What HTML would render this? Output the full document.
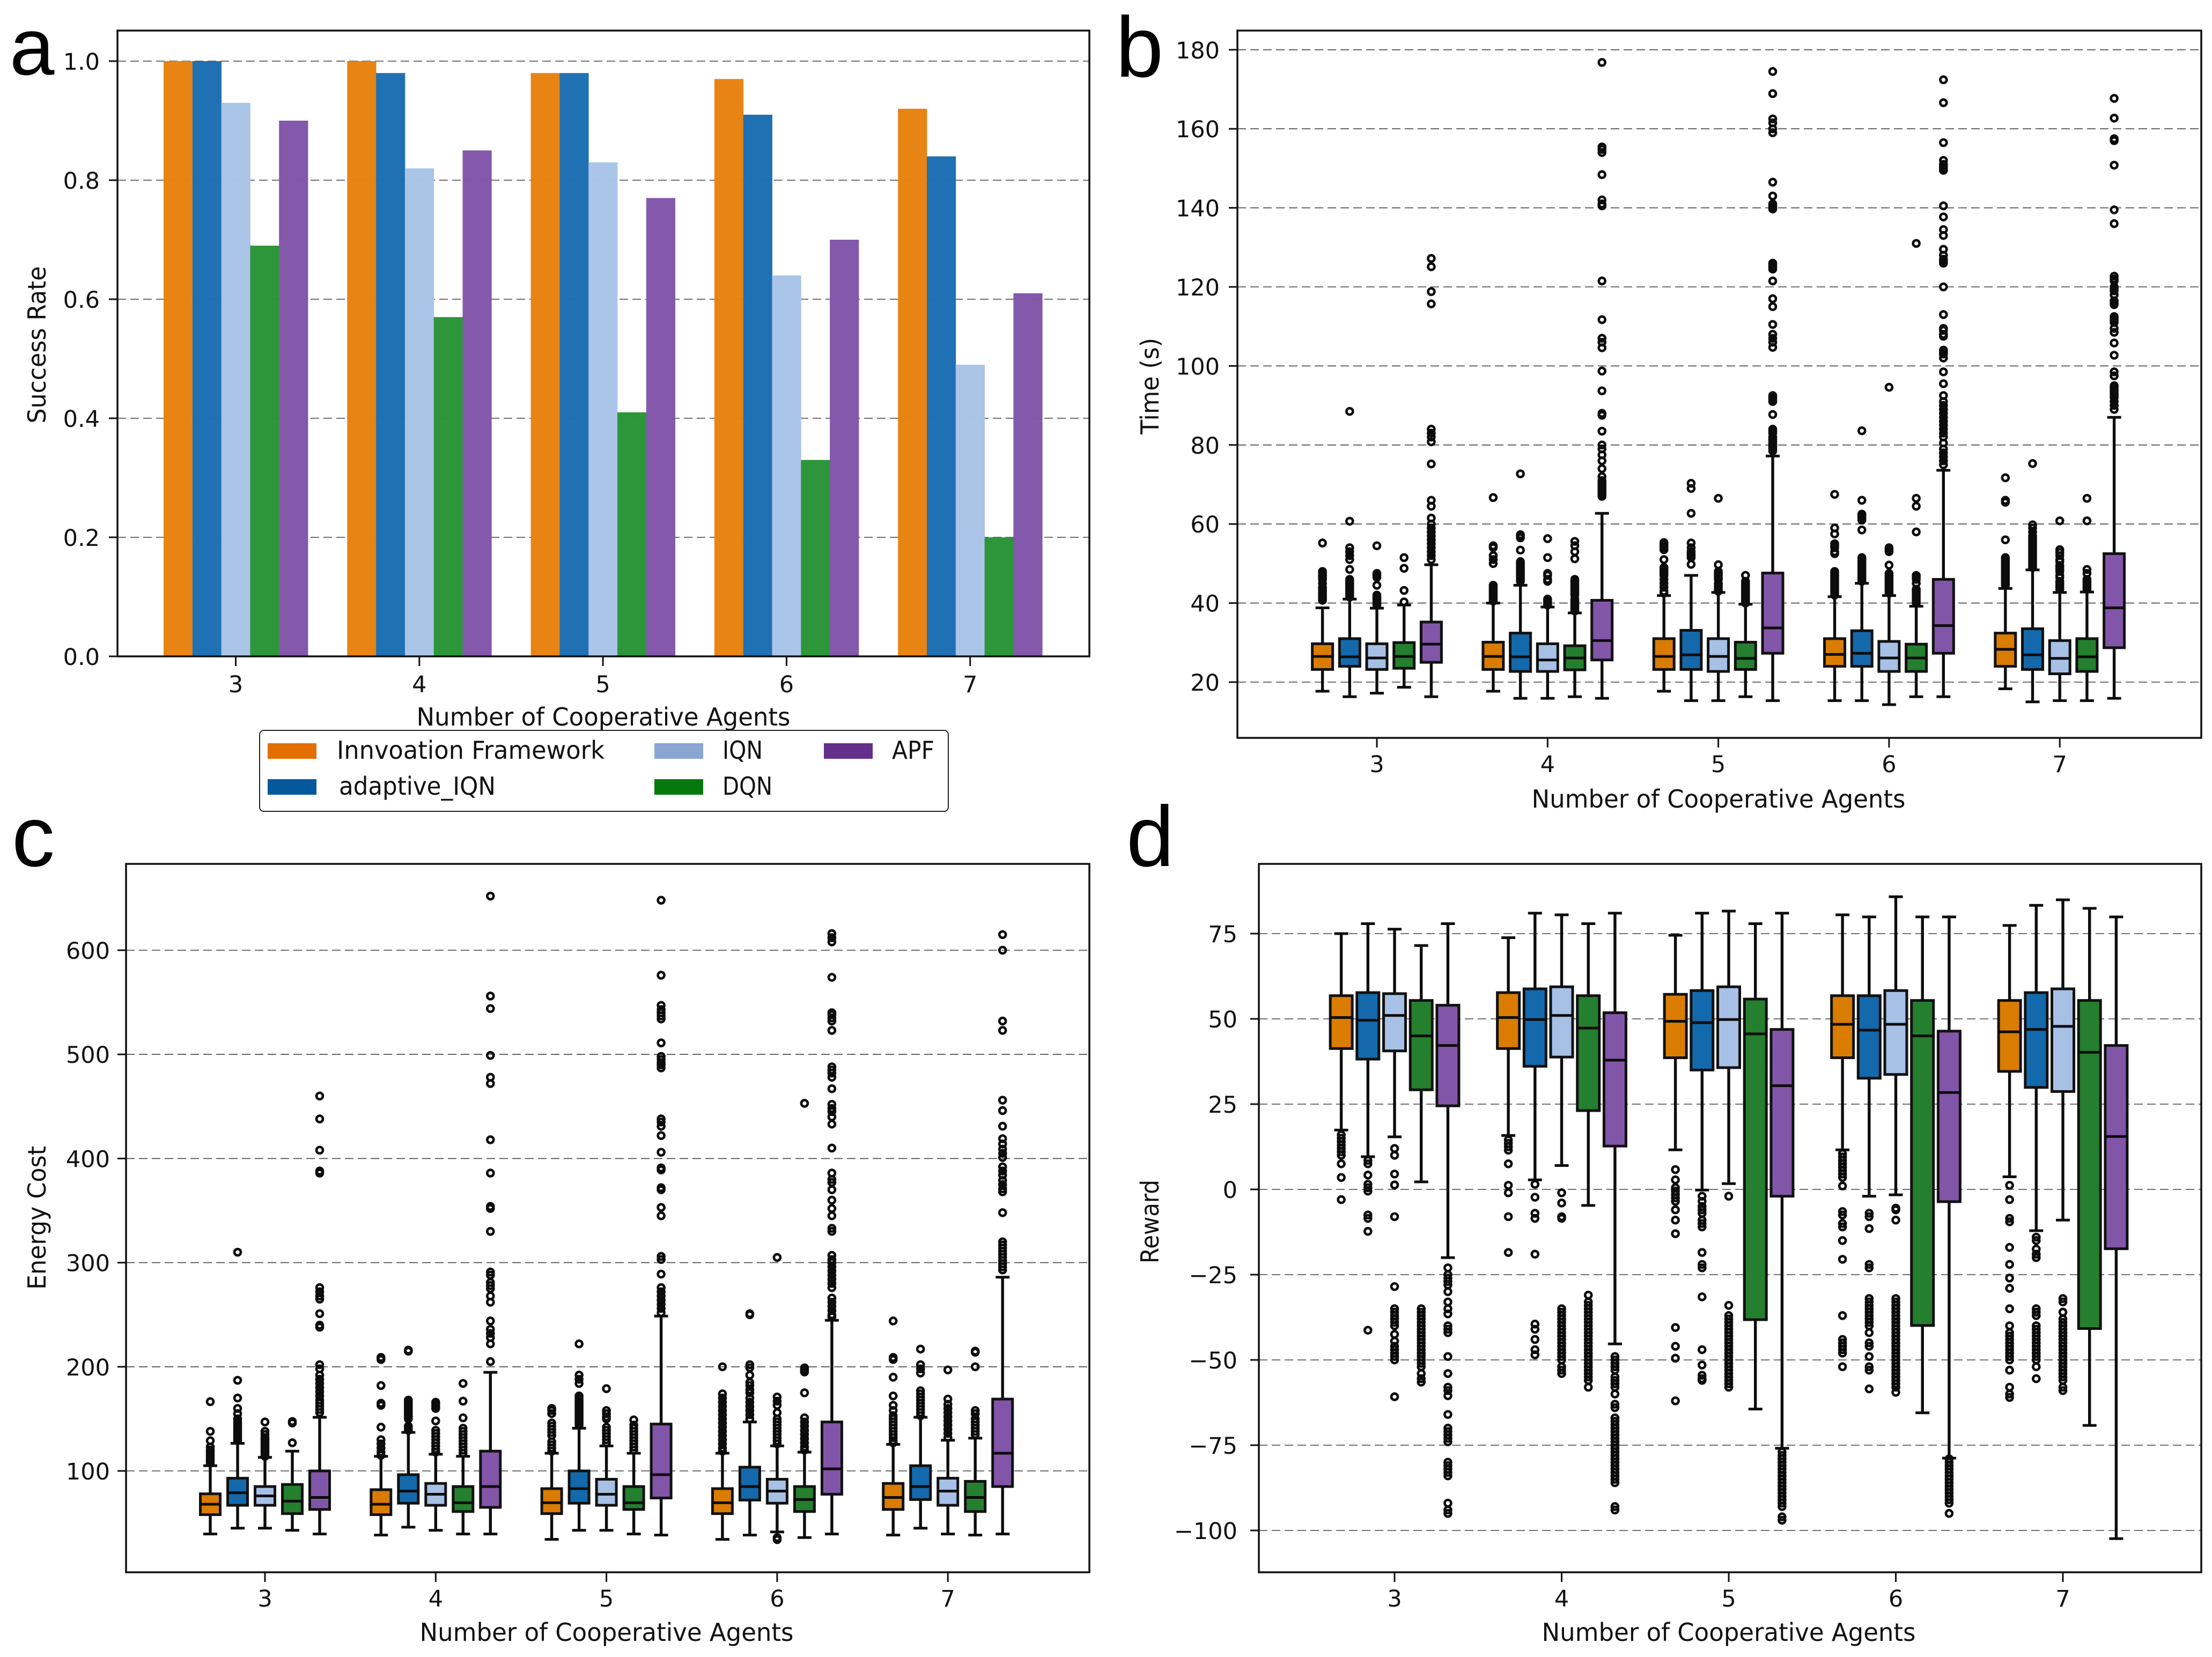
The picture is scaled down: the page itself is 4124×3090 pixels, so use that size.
<!DOCTYPE html>
<html lang="en">
<head>
<meta charset="utf-8">
<title>Cooperative agents comparison</title>
<style>
html,body{margin:0;padding:0;background:#fff;}
svg{display:block;}
text{font-family:"DejaVu Sans","Liberation Sans",sans-serif;fill:#111;}
.pl{font-family:"Liberation Sans",sans-serif;fill:#000;}
</style>
</head>
<body>
<svg id="fig" xmlns="http://www.w3.org/2000/svg" width="4124" height="3090" viewBox="0 0 4124 3090"></svg>
<script>
const agentCounts = [3, 4, 5, 6, 7];
const seriesNames = ["Innvoation Framework", "adaptive_IQN", "IQN", "DQN", "APF"];
const seriesKeys = ["innovation", "adaptive-iqn", "iqn", "dqn", "apf"];
const barColors = ["#E8820F", "#1B6FB3", "#A9C4E8", "#2A9437", "#8256AB"];
const boxColors = ["#D97C00", "#1369AB", "#A6C0E6", "#247F2E", "#8155A8"];
const legendColors = ["#E36F00", "#04589C", "#8AA6D3", "#05780E", "#652F8C"];

const successRate = [
  [1.0, 1.0, 0.93, 0.69, 0.90],
  [1.0, 0.98, 0.82, 0.57, 0.85],
  [0.98, 0.98, 0.83, 0.41, 0.77],
  [0.97, 0.91, 0.64, 0.33, 0.70],
  [0.92, 0.84, 0.49, 0.20, 0.61]
];
const successTicks = [0.0, 0.2, 0.4, 0.6, 0.8, 1.0];

const timeTicks = [20, 40, 60, 80, 100, 120, 140, 160, 180];
const timeQ1 = [[23.2,24,23.2,23.5,25],[23.2,22.7,22.7,23.1,25.6],[23.2,23.2,22.7,23.2,27.3],[24,24,22.7,22.7,27.3],[24,23.2,22.1,22.7,28.7]];
const timeMedian = [[26.5,26.4,26.1,26.5,29.6],[26.5,26.4,25.6,26.1,30.5],[26.5,26.9,26.5,26,33.7],[27,27.3,26.1,26.1,34.3],[28.3,26.9,26,26.4,38.8]];
const timeQ3 = [[29.7,31,29.7,30,35.2],[30.1,32.4,29.7,29.2,40.7],[31,33.1,31,30.1,47.6],[31,33,30.3,29.6,46],[32.4,33.5,30.5,31,52.5]];
const timeLow = [[17.7,16.3,17.2,18.7,16.3],[17.7,15.9,15.9,16.3,15.9],[17.7,15.3,15.3,16.3,15.3],[15.3,15.3,14.3,16.3,16.3],[18.3,15,15.3,15.3,15.9]];
const timeHigh = [[38.8,41,38.7,39.5,49.7],[40,44.5,39,37.5,62.7],[41.9,47,42.7,39.7,77.2],[41.6,45,41.9,39.2,73.6],[43.7,48.4,42.7,42.8,87]];
const timeFliers = [
 [[55.2,48,47.5,47,46.5,46,45,44,43.5,43,42.5,42,41.5,41,40.7],
  [88.5,60.7,54,53,52,51,48.5,46,45.5,45,44.5,44,43.5,43,42.5,42,41.5],
  [54.5,47.5,47,46.5,44.5,42,41.5,41,40.5,40,39.5],
  [51.5,48.8,43.2,40.3],
  [127.2,125.1,118.8,115.7,84,83,82,80.8,75.2,66,64.5,61.5,60,59,58,57,56,55,54,53,52,51]],
 [[66.7,54.5,54,52,51,50,44.5,44,43.5,43,42.5,42,41.5,41,40.5],
  [72.7,57.3,57,56.5,53.4,50.5,50,49.5,49,48.5,48,47.5,47,46.5,46,45.5],
  [56.3,51.5,47.5,47,46,45.5,41,40.5,40,39.5],
  [55.6,54.5,53,51.2,46,45.5,45,44.5,44,43.5,43,42.5,42,41,40.5,40,39.5,39,38.5,38],
  [176.8,155.4,154.8,154,148.4,142,141,140.5,121.5,111.7,107,106,104.6,98.7,93.7,88,87.5,83.5,80,79,77.5,76,74,72,71,70.5,70,69.5,69,68.5,68,67.5,67]],
 [[55.3,55,54.5,54,53.5,51,49,48.5,48,47.5,47,46,45,44,43,42.5],
  [70.3,69,62.7,55.2,54,53,52.5,52,51.5,49.8],
  [66.5,49.7,48,47.5,47,46.5,46,45,44.5,44,43.5,43],
  [47,45.5,45,44.5,44,43.5,43,42.5,42,41.5,41,40.5,40],
  [174.5,168.9,162.5,161.5,160,159,146.5,143,141,140.5,140,139.7,126,125.5,125,124.5,121.5,117,115,110.5,108,107,106,104.7,92.5,92,91.5,91,87.7,84,83.5,83,82,81.5,81,80.5,80,79.5,79,78.5]],
 [[67.5,59,57.5,55,54.5,54,53,52.5,48,47.5,47,46.5,46,45.5,45,44.5,44,43.5,43,42.5,42],
  [83.6,66,62.5,62,61.5,61,58.5,51.5,51,50.5,50,49.5,49,48.5,48,47.5,47,46.5,46,45.5],
  [94.6,54,53.5,53,49.6,47.5,47,46.5,46,45.5,45,44.5,44,43.5,43,42.5],
  [131,66.5,64.5,58,47,46.5,46,45,43.5,43,42.5,42,41.5,41,40.5,40],
  [172.4,166.6,156.5,152,151,150.5,150,149.5,140.5,137.7,134.5,133,129.5,128,127,126.5,126,120,113,109.5,109,108,107.5,104,103.5,103,102,98.5,95.5,92.5,91,90,89,88,87,86,85,84,83,82,80.5,79,78,77,76,75]],
 [[71.7,66,65.5,56,51.5,51,50.5,50,49.5,49,48.5,48,47.5,47,46.5,46,45.5,45,44.5],
  [75.3,59.8,59,58,57,56.5,56,55.5,55,54.5,54,53.5,53,52.5,52,51.5,51,50.5,50,49.5,49],
  [60.8,53.5,52.8,52,51,50.5,49.5,49,48.5,48,47,46.5,45.5,45,44.5,44,43.5],
  [66.5,60.8,48.5,47.5,46,45.5,45,44.5,44,43.5],
  [167.7,162.7,157.5,157,150.8,139.5,136,122.7,122,121.5,120,119.5,119,118,116.5,116,115.5,112.5,112,111.5,111,109.5,108.5,105.8,102.7,98.5,97.5,95,94.5,94,93.5,93,92.5,92,91,90,89]]
];

const energyTicks = [100, 200, 300, 400, 500, 600];
const energyQ1 = [[58,67,67,59,63],[58,69,67,61,65],[59,69,67,63,74],[59,72,69,61,77.6],[63,72.5,67,61,85]];
const energyMedian = [[68,79,76,71,74.5],[68,80.6,77.6,69.4,85],[69.4,83,77.6,69.4,96.4],[69.4,85,80.6,72.5,102],[74.5,85,80.6,74.5,117]];
const energyQ3 = [[78,93,85,87,100],[82,96.4,88,85,119],[83,100,92,85,145],[83,103.6,92,85,147],[88,105,93,90,169]];
const energyLow = [[39.4,45,45,43,39.4],[38.4,46,43,39.4,39.4],[34.3,43,43,39.4,38.4],[34.3,38.4,41.4,36,39.4],[38.4,45,39.4,38.4,39.4]];
const energyHigh = [[105,126.5,113,119,151.5],[114,137,116,114,194.7],[117,141,124,117,248.7],[117,147,124,118,244.6],[125.5,151.5,129.5,131.5,286]];
const energyFliers = [
 [[166.5,138,129,123,120,118,116,114,112,110,108],
  [310,187,170,160,155,150,147,145,143,141,139,137,135,133,131,129],
  [147,138,135,132,130,128,126,124,122,120,118,116,114],
  [147.5,146,127],
  [460,438,408,388,386,276,272,268,265,251,240,238,202,198,192,188,184,180,176,172,168,165,162,159,156]],
 [[209,207,182,165,163,142,130,126,122,118,115],
  [216,215,168,166,164,162,160,158,156,154,152,150,143,141,139],
  [166,164,162,160,148,139,136,133,130,127,124,121,118],
  [184,167,151,141,138,135,132,129,126,123,120,117],
  [652,556,544,499,478,472,418,386,354,352,330,291,288,281,278,275,268,262,244,236,232,228,222,205]],
 [[160,158,155,146,143,140,137,134,128,125,122,119],
  [222,192,188,184,172,170,168,166,164,162,160,158,156,154,152,150,148,146,144],
  [179,158,155,152,150,142,139,136,133,130,127],
  [149,144,141,138,135,132,129,126,123,120],
  [648,576,547,543,540,537,534,511,498,495,492,490,487,438,435,431,422,406,391,389,372,370,353,345,306,303,289,276,272,268,264,260,256,252]],
 [[200,174,170,166,162,158,154,150,146,142,138,134,130,126,122,119],
  [251,250,202,199,192,185,182,178,175,170,166,162,158,154,150],
  [305,171,167,163,156,150,147,144,141,138,135,132,129,126,36,34],
  [453,199,197,195,175,151,147,143,139,135,131,127,123,120],
  [616,612,608,574,540,538,535,532,523,488,485,482,478,467,452,448,445,440,433,410,386,380,377,370,360,352,345,333,330,307,303,300,296,292,288,284,280,276,266,262,258,254,250,248]],
 [[244,209,207,190,172,163,158,153,150,147,144,141,138,135,132,129,127],
  [217,202,198,194,177,174,171,168,165,162,159,156,153],
  [197,169,164,160,156,152,148,144,140,136,132],
  [215,214,200,158,155,150,147,144,141,138,135],
  [615,600,532,523,456,446,431,419,414,409,405,401,392,388,384,379,375,371,368,348,320,317,314,311,308,305,302,299,296,293]]
];

const rewardTicks = [-100, -75, -50, -25, 0, 25, 50, 75];
const rewardQ1 = [[41.3,38.2,40.6,29.2,24.5],[41.3,36.1,38.8,23.1,12.7],[38.6,35,35.7,-38.2,-2],[38.6,32.6,33.7,-39.9,-3.6],[34.6,29.9,28.7,-40.8,-17.4]];
const rewardMedian = [[50.4,49.6,51,45,42.2],[50.4,49.8,51,47.3,37.9],[49.3,48.9,49.8,45.6,30.4],[48.4,46.7,48.4,45,28.4],[46.2,46.9,47.8,40.2,15.5]];
const rewardQ3 = [[56.8,57.7,57.4,55.4,54],[57.7,58.8,59.4,56.8,51.8],[57.2,58.3,59.4,55.8,46.9],[56.8,56.8,58.3,55.4,46.4],[55.4,57.7,58.8,55.4,42.2]];
const rewardLow = [[17.4,9.6,15.4,2.2,-20],[15.8,2.8,7,-4.7,-45.3],[11.6,-0.2,1.7,-64.4,-75.9],[11.6,-2,-1.6,-65.5,-78.8],[3.7,-12.1,-9,-69.2,-102.4]];
const rewardHigh = [[75,77.9,76.3,71.5,77.9],[73.8,81,80.5,77.9,81],[74.5,81,81.6,77.9,81],[80.5,79.9,85.8,79.9,79.9],[77.4,83.3,84.9,82.4,79.9]];
const rewardFliers = [
 [[16,15,14,13,12,11,10,7.5,3.5,-3],
  [8.5,7.5,4.2,1.5,0.5,-0.5,-7.5,-8.5,-12.3,-41.3],
  [12,10,4.5,1.3,-8,-28.5,-35,-36,-37,-38,-39,-40,-42.5,-44.5,-46,-47,-48,-49,-50,-60.8],
  [-35,-36,-37,-38,-39,-40,-41,-42,-43,-44,-45,-46,-47,-48,-49,-50,-51,-52,-54,-55.5,-56.5],
  [-23,-25,-26,-27,-28,-30,-33,-35,-36.5,-40,-41,-42,-49,-54,-58,-59,-60.5,-66,-70,-71,-72,-73,-74,-80,-81,-82,-83,-84,-92,-94,-95]],
 [[14.5,13.5,12.5,11.5,7.5,1.2,-1,-8,-18.5],
  [1.5,-2.3,-7,-8.5,-19,-39.5,-41,-44,-47,-48.5],
  [-1,-4,-8,-8.5,-35,-36,-37,-38,-39,-40,-41,-42,-43,-44,-45,-46,-47,-48,-49,-50,-52,-53,-54],
  [-31,-33,-34,-35,-36,-37,-38,-39,-40,-41,-42,-43,-44,-45,-46,-47,-48,-49,-50,-51,-52,-53,-54,-55,-56,-58],
  [-49,-50,-51,-52,-53,-55,-56,-57,-58,-60,-63,-64,-67,-68,-69,-70,-71,-72,-73,-74,-75,-76,-77,-78,-79,-80,-81,-82,-83,-84,-85,-86,-93,-94]],
 [[5.8,2.8,0.5,-0.5,-1.5,-2.5,-3.5,-6,-9,-13,-40.5,-46,-49.5,-62],
  [-2,-3.5,-5,-6,-7,-9,-10,-11,-18.5,-22,-23,-31.5,-47,-51.5,-54.5,-55.5,-56],
  [-2,-34,-37,-38,-39,-40,-41,-42,-43,-44,-45,-46,-47,-48,-49,-50,-51,-52,-53,-54,-55,-56,-57,-58],
  [],
  [-77,-78,-79,-80,-81,-82,-83,-84,-85,-86,-87,-88,-89,-90,-91,-92,-93,-96,-97]],
 [[10.5,9.5,8.5,7.5,6.5,5.5,4.5,3.5,1,-6.5,-7.5,-10,-11,-15,-20.5,-37,-44,-45,-46,-47,-48,-52],
  [-7,-8,-11.5,-22,-23,-32,-33,-34,-35,-36,-37,-38,-39,-40,-42,-45,-46,-49,-52,-53,-58.5],
  [-5.5,-6,-9,-32,-33,-34,-35,-36,-37,-38,-39,-40,-41,-42,-43,-44,-45,-46,-47,-48,-49,-50,-51,-52,-53,-54,-55,-56,-57,-58,-59.5],
  [],
  [-79,-80,-81,-82,-83,-84,-85,-86,-87,-88,-89,-90,-91,-92,-95]],
 [[1.2,-3,-8.5,-9.5,-17,-22,-26,-29,-35,-40,-42,-43,-44,-45,-46,-47,-48,-49,-50,-53,-58,-60,-61],
  [-14,-15,-17.5,-19,-20,-35,-36,-37,-40,-41,-42,-43,-44,-45,-46,-47,-48,-49,-50,-52,-55.5],
  [-32,-33,-36,-38,-39,-40,-41,-42,-43,-44,-45,-46,-47,-48,-49,-50,-51,-52,-53,-54,-55,-56,-58,-59],
  [],
  []]
];

const SVGNS = "http://www.w3.org/2000/svg";
const fig = document.getElementById("fig");
const gridDash = "16 8";

function mk(tag, parent, attrs) {
  const el = document.createElementNS(SVGNS, tag);
  for (const k in attrs) el.setAttribute(k, attrs[k]);
  parent.appendChild(el);
  return el;
}

function frame(p, xOf, yOf, ticks, fmt) {
  for (const t of ticks) {
    const grid = mk("line", p.g, {x1: p.left, x2: p.right, y1: yOf(t), y2: yOf(t), stroke: "#222", "stroke-width": 1.6, "stroke-dasharray": gridDash, opacity: 0.85});
    
    
  }
}

function axes(p, xOf, yOf, ticks, fmt) {
  const border = mk("rect", p.g, {x: p.left, y: p.top, width: p.right - p.left, height: p.bottom - p.top, fill: "none", stroke: "#111", "stroke-width": 3.5});
  
  
  for (const t of ticks) {
    const mark = mk("line", p.g, {x1: p.left - 16, x2: p.left, y1: yOf(t), y2: yOf(t), stroke: "#111", "stroke-width": 3});
    
    
    const lab = mk("text", p.g, {x: p.tickRight, y: yOf(t) + 16, "text-anchor": "end", "font-size": 43});
    
    
    lab.textContent = fmt(t);
  }
  for (const c of agentCounts) {
    const mark = mk("line", p.g, {x1: xOf(c), x2: xOf(c), y1: p.bottom, y2: p.bottom + 18, stroke: "#111", "stroke-width": 3});
    
    
    const lab = mk("text", p.g, {x: xOf(c), y: p.xTickY + 16, "text-anchor": "middle", "font-size": 43});
    
    
    lab.textContent = String(c);
  }
  const xt = mk("text", p.g, {x: p.xTitleX, y: p.xTitleY + 16, "text-anchor": "middle", "font-size": 46, textLength: 697, lengthAdjust: "spacingAndGlyphs"});
  
  
  xt.textContent = "Number of Cooperative Agents";
  const yt = mk("text", p.g, {x: 0, y: 0, "text-anchor": "middle", "font-size": 46, textLength: p.yTitleLen, lengthAdjust: "spacingAndGlyphs", transform: "translate(" + p.yTitleX + "," + p.yTitleY + ") rotate(-90)"});
  
  
  yt.textContent = p.yTitle;
  const letter = mk("text", p.g, {x: p.letterX, y: p.letterY, "font-size": p.letterSize, class: "pl"});
  
  
  letter.textContent = p.letter;
}

function boxPanel(p, xOf, yOf, ticks, q1, med, q3, lo, hi, fl) {
  frame(p, xOf, yOf, ticks);
  agentCounts.forEach(function (c, i) {
    seriesNames.forEach(function (s, j) {
      const cx = xOf(c) + (j - 2) * p.step;
      const hw = p.boxW / 2;
      const group = mk("g", p.g, {});
      
      
      const whisker = mk("line", group, {x1: cx, x2: cx, y1: yOf(hi[i][j]), y2: yOf(lo[i][j]), stroke: "#0c0c0c", "stroke-width": 5.4});
      
      
      for (const w of [hi[i][j], lo[i][j]]) {
        const cap = mk("line", group, {x1: cx - 13, x2: cx + 13, y1: yOf(w), y2: yOf(w), stroke: "#0c0c0c", "stroke-width": 5});
        
        
      }
      const box = mk("rect", group, {x: cx - hw, y: yOf(q3[i][j]), width: p.boxW, height: yOf(q1[i][j]) - yOf(q3[i][j]), fill: boxColors[j], stroke: "#111", "stroke-width": 5});
      
      
      const median = mk("line", group, {x1: cx - hw, x2: cx + hw, y1: yOf(med[i][j]), y2: yOf(med[i][j]), stroke: "#0c0c0c", "stroke-width": 5});
      
      
      for (const v of fl[i][j]) {
        const pt = mk("circle", group, {cx: cx, cy: yOf(v), r: 6, fill: "none", stroke: "#0c0c0c", "stroke-width": 4.6});
        
        
      }
    });
  });
  axes(p, xOf, yOf, ticks, p.fmt);
}

/* panel a: bars */
(function () {
  const g = mk("g", fig, {});
  
  
  const p = {g: g, left: 219, right: 2031, top: 57, bottom: 1224, tickRight: 186, xTickY: 1275, xTitleX: 1125, xTitleY: 1337, yTitle: "Success Rate", yTitleLen: 293, yTitleX: 85, yTitleY: 643, letter: "a", letterX: 18, letterY: 139, letterSize: 150};
  const xOf = c => 439.5 + (c - 3) * 342.3;
  const yOf = v => 1224 - v * 1110;
  frame(p, xOf, yOf, successTicks.slice(1));
  agentCounts.forEach(function (c, i) {
    seriesNames.forEach(function (s, j) {
      const w = 53.8;
      const bar = mk("rect", g, {x: xOf(c) + (j - 2.5) * w, y: yOf(successRate[i][j]), width: w + 0.4, height: yOf(0) - yOf(successRate[i][j]), fill: barColors[j], "fill-opacity": 0.985});
      
      
    });
  });
  axes(p, xOf, yOf, successTicks, t => t.toFixed(1));

  const legend = mk("g", g, {});
  
  
  const legendBox = mk("rect", legend, {x: 484, y: 1362, width: 1284, height: 151, rx: 8, fill: "#fff", stroke: "#222", "stroke-width": 2});
  
  
  const legendX = [[499, 628, 499], [499, 632, 292], [1220, 1347, 75], [1220, 1347, 93], [1536, 1663, 79]];
  const legendRowY = [1386, 1453, 1386, 1453, 1386];
  seriesNames.forEach(function (s, j) {
    const swatch = mk("rect", legend, {x: legendX[j][0], y: legendRowY[j], width: 91, height: 29, fill: legendColors[j]});
    
    
    const label = mk("text", legend, {x: legendX[j][1], y: legendRowY[j] + 29, "font-size": 46, textLength: legendX[j][2], lengthAdjust: "spacingAndGlyphs"});
    
    
    label.textContent = s;
  });
})();

/* panel b */
(function () {
  const g = mk("g", fig, {});
  
  
  const p = {g: g, left: 2307, right: 4104, top: 57, bottom: 1376, tickRight: 2274, xTickY: 1424, xTitleX: 3204, xTitleY: 1490, yTitle: "Time (s)", yTitleLen: 180, yTitleX: 2160, yTitleY: 720, letter: "b", letterX: 2080, letterY: 143, letterSize: 160, step: 50.7, boxW: 38, fmt: t => String(t)};
  boxPanel(p, c => 2567 + (c - 3) * 318.3, v => 1272 - (v - 20) * 7.37, timeTicks, timeQ1, timeMedian, timeQ3, timeLow, timeHigh, timeFliers);
})();

/* panel c */
(function () {
  const g = mk("g", fig, {});
  
  
  const p = {g: g, left: 235, right: 2031, top: 1611, bottom: 2932, tickRight: 205, xTickY: 2980, xTitleX: 1131, xTitleY: 3044, yTitle: "Energy Cost", yTitleLen: 268, yTitleX: 85, yTitleY: 2271, letter: "c", letterX: 22, letterY: 1615, letterSize: 160, step: 51, boxW: 37, fmt: t => String(t)};
  boxPanel(p, c => 494 + (c - 3) * 318.3, v => 2743 - (v - 100) * 1.942, energyTicks, energyQ1, energyMedian, energyQ3, energyLow, energyHigh, energyFliers);
})();

/* panel d */
(function () {
  const g = mk("g", fig, {});
  
  
  const p = {g: g, left: 2347, right: 4104, top: 1611, bottom: 2932, tickRight: 2307, xTickY: 2980, xTitleX: 3223, xTitleY: 3044, yTitle: "Reward", yTitleLen: 156, yTitleX: 2160, yTitleY: 2278, letter: "d", letterX: 2100, letterY: 1615, letterSize: 160, step: 49.7, boxW: 41, fmt: t => (t < 0 ? "\u2212" + Math.abs(t) : String(t))};
  boxPanel(p, c => 2600 + (c - 3) * 311.5, v => 2218 - v * 6.36, rewardTicks, rewardQ1, rewardMedian, rewardQ3, rewardLow, rewardHigh, rewardFliers);
})();
</script>
</body>
</html>
